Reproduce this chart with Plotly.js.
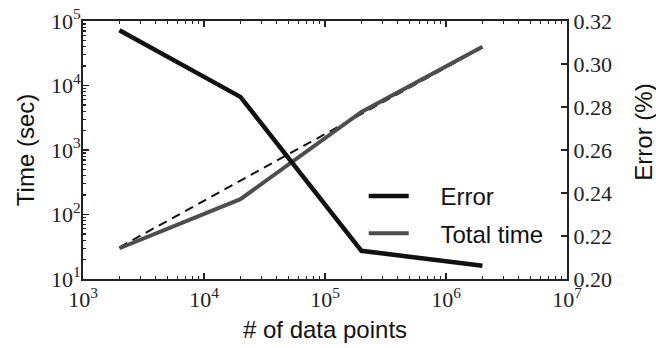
<!DOCTYPE html>
<html>
<head>
<meta charset="utf-8">
<script src="https://cdn.plot.ly/plotly-3.0.1.min.js"></script>
<style>
  html, body { margin: 0; padding: 0; background: #fff; }
  #chart { width: 656px; height: 348px; }
</style>
</head>
<body>
<div id="chart"></div>
<script>
// Dataset sizes (x) and measured results
const dataPoints = [2000, 20000, 200000, 2000000];
const errorPct = [0.3157, 0.2847, 0.2131, 0.2062];
const totalTime = [30, 173, 3900, 39800];

// Linear-scaling reference line (endpoints)
const refPoints = [2000, 2000000];
const refTime = [31, 39000];

// Axis ticks
const xTicks = [1e3, 1e4, 1e5, 1e6, 1e7];
const xTickText = ['10<sup>3</sup>', '10<sup>4</sup>', '10<sup>5</sup>', '10<sup>6</sup>', '10<sup>7</sup>'];
const timeTicks = [1e1, 1e2, 1e3, 1e4, 1e5];
const timeTickText = ['10<sup>1</sup>', '10<sup>2</sup>', '10<sup>3</sup>', '10<sup>4</sup>', '10<sup>5</sup>'];
const errorTicks = [0.20, 0.22, 0.24, 0.26, 0.28, 0.30, 0.32];

// minor log ticks at 2..9 within each decade
function minorLogTicks(lo, hi) {
  const out = [];
  for (let e = lo; e < hi; e++) {
    for (let m = 2; m <= 9; m++) out.push(m * Math.pow(10, e));
  }
  return out;
}

const NB = '\u00a0';
const pad = NB + NB + NB + NB;
const sans = 'Liberation Sans, Arial, sans-serif';
const serif = 'Liberation Serif, Times New Roman, serif';
const ink = '#222';

const traces = [
  {
    x: refPoints, y: refTime, yaxis: 'y', mode: 'lines',
    line: { color: '#111', width: 2, dash: '9px,6px' },
    showlegend: false, hoverinfo: 'skip'
  },
  {
    x: dataPoints, y: errorPct, yaxis: 'y2', mode: 'lines',
    name: pad + 'Error', legendgroup: 'error',
    line: { color: '#111', width: 4.5 }
  },
  {
    x: dataPoints, y: totalTime, yaxis: 'y', mode: 'lines',
    name: pad + 'Total time', legendgroup: 'time',
    line: { color: '#4d4d4d', width: 4 }
  }
];

const axisCommon = {
  showgrid: false, zeroline: false, showline: true,
  linecolor: ink, linewidth: 2,
  ticks: 'inside', tickcolor: ink, tickwidth: 1.2, ticklen: 6,
  tickfont: { family: serif, size: 22, color: ink }
};

const layout = {
  width: 656, height: 348,
  margin: { l: 83, r: 89, t: 21, b: 69 },
  paper_bgcolor: '#fff', plot_bgcolor: '#fff',
  showlegend: true,
  legend: {
    x: 0.58, y: 0.407, xanchor: 'left', yanchor: 'top',
    bgcolor: 'rgba(0,0,0,0)', borderwidth: 0,
    traceorder: 'grouped', tracegroupgap: 3,
    font: { family: sans, size: 24, color: '#111' },
    itemwidth: 40
  },
  xaxis: Object.assign({}, axisCommon, {
    type: 'log', range: [3, 7],
    tickmode: 'array', tickvals: xTicks, ticktext: xTickText,
    mirror: 'ticks',
    minor: { ticks: 'inside', ticklen: 3, tickcolor: ink, tickmode: 'array', tickvals: minorLogTicks(3, 7) },
    title: { text: '# of data points', font: { family: sans, size: 24, color: '#111' }, standoff: 10 }
  }),
  yaxis: Object.assign({}, axisCommon, {
    type: 'log', range: [1, 5],
    tickmode: 'array', tickvals: timeTicks, ticktext: timeTickText,
    ticklabelstandoff: -4,
    minor: { ticks: 'inside', ticklen: 3, tickcolor: ink, tickmode: 'array', tickvals: minorLogTicks(1, 5) },
    title: { text: 'Time (sec)', font: { family: sans, size: 24, color: '#111' }, standoff: 9 }
  }),
  yaxis2: Object.assign({}, axisCommon, {
    overlaying: 'y', side: 'right',
    range: [0.20, 0.32], tickmode: 'array', tickvals: errorTicks, tickformat: '.2f'
  }),
  annotations: [{
    text: 'Error (%)', textangle: -90,
    xref: 'paper', yref: 'paper', x: 1.159, y: 0.571,
    xanchor: 'center', yanchor: 'middle', showarrow: false,
    font: { family: sans, size: 24, color: '#111' }
  }]
};

Plotly.newPlot('chart', traces, layout, { displayModeBar: false, staticPlot: true });
</script>
</body>
</html>
